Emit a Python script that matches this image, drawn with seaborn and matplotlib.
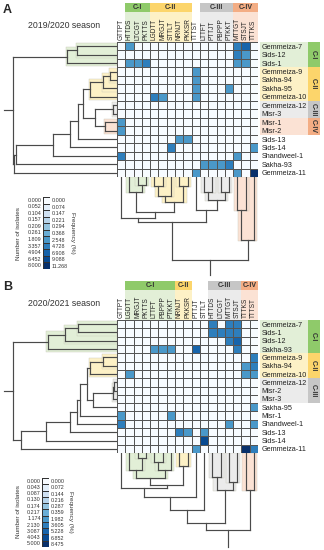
import numpy as np
import pandas as pd
import matplotlib
matplotlib.use("Agg")
import matplotlib.pyplot as plt
from matplotlib.colors import ListedColormap, BoundaryNorm
from matplotlib.patches import Rectangle
import seaborn as sns

sns.set_theme(style="white")
plt.rcParams['font.family'] = ['Liberation Sans', 'DejaVu Sans']

# ---------------- data: 2019/2020 season ----------------
rows_A = ["Gemmeiza-7", "Sids-12", "Sids-1", "Gemmeiza-9", "Sakha-94", "Sakha-95",
          "Gemmeiza-10", "Gemmeiza-12", "Misr-3", "Misr-1", "Misr-2", "Sids-13",
          "Sids-14", "Shandweel-1", "Sakha-93", "Gemmeiza-11"]
cols_A = ["GTTPT", "HTTDS", "LTCGT", "PKTTS", "LGDTT", "MRGJT", "STTLT", "NRNJT",
          "PKKSR", "TTTST", "LTTFT", "PTTJT", "PBPPP", "PTKKT", "MTTGT", "STSJT", "TTTKS"]
counts_A = {
    "Gemmeiza-7": {"HTTDS": 2, "MTTGT": 3, "STSJT": 5},
    "Sids-12": {"MTTGT": 3, "STSJT": 2},
    "Sids-1": {"HTTDS": 2, "LTCGT": 2, "PKTTS": 3, "MTTGT": 2, "STSJT": 2},
    "Gemmeiza-9": {"TTTST": 2},
    "Sakha-94": {"TTTST": 2},
    "Sakha-95": {"TTTST": 2, "PTKKT": 2},
    "Gemmeiza-10": {"LGDTT": 3, "MRGJT": 2, "TTTST": 2},
    "Misr-1": {"GTTPT": 2},
    "Misr-2": {"GTTPT": 2},
    "Sids-13": {"NRNJT": 2, "PKKSR": 2},
    "Sids-14": {"STTLT": 3, "TTTKS": 2},
    "Shandweel-1": {"GTTPT": 3, "MTTGT": 2},
    "Sakha-93": {"LTTFT": 2, "PTTJT": 2, "PBPPP": 2, "PTKKT": 3},
    "Gemmeiza-11": {"TTTST": 2, "MTTGT": 2, "TTTKS": 8},
}
levels_A = [0.000, 0.052, 0.104, 0.157, 0.209, 0.261, 1.809, 3.357, 4.904, 6.452, 8.000]
freq_A = ["0.000", "0.074", "0.147", "0.221", "0.294", "0.368", "2.548", "4.728",
          "6.908", "9.088", "11.268"]
# merges: (node, child, child, height)
row_tree_A = [
    ("a1", "Gemmeiza-7", "Sids-12", 0.385), ("cI", "a1", "Sids-1", 0.48),
    ("a2", "Gemmeiza-9", "Sakha-94", 0.07), ("a3", "a2", "Sakha-95", 0.135),
    ("cII", "a3", "Gemmeiza-10", 0.26), ("cIII", "Gemmeiza-12", "Misr-3", 0.04),
    ("cIV", "Misr-1", "Misr-2", 0.115), ("a4", "cIII", "cIV", 0.21),
    ("a5", "cII", "a4", 0.33), ("a6", "a5", "Sids-13", 0.375),
    ("a7", "a6", "Sids-14", 0.45), ("a8", "a7", "Shandweel-1", 0.615),
    ("a9", "a8", "Sakha-93", 0.975), ("a10", "a9", "Gemmeiza-11", 0.99),
    ("root", "cI", "a10", 1.0),
]
col_tree_A = [
    ("b1", "LTCGT", "PKTTS", 0.10), ("cI", "HTTDS", "b1", 0.18),
    ("b2", "LGDTT", "MRGJT", 0.11), ("b3", "b2", "STTLT", 0.23),
    ("b4", "NRNJT", "PKKSR", 0.11), ("cII", "b3", "b4", 0.30),
    ("b5", "cI", "cII", 0.42), ("b6", "GTTPT", "b5", 0.49),
    ("b7", "LTTFT", "PTTJT", 0.18), ("b8", "PBPPP", "PTKKT", 0.18),
    ("cIII", "b7", "b8", 0.28), ("b9", "TTTST", "cIII", 0.40),
    ("b10", "b6", "b9", 0.54), ("b11", "MTTGT", "STSJT", 0.40),
    ("cIV", "b11", "TTTKS", 0.76), ("root", "b10", "cIV", 1.0),
]
shade_A = {"cI": "C-I", "cII": "C-II", "cIII": "C-III", "cIV": "C-IV"}
row_groups_A = [("C-I", 0, 2), ("C-II", 3, 6), ("C-III", 7, 8), ("C-IV", 9, 10)]
col_groups_A = [("C-I", 1, 3), ("C-II", 4, 8), ("C-III", 10, 13), ("C-IV", 14, 16)]

# ---------------- data: 2020/2021 season ----------------
rows_B = ["Gemmeiza-7", "Sids-1", "Sids-12", "Sakha-93", "Gemmeiza-9", "Sakha-94",
          "Gemmeiza-10", "Gemmeiza-12", "Misr-2", "Misr-3", "Sakha-95", "Misr-1",
          "Shandweel-1", "Sids-13", "Sids-14", "Gemmeiza-11"]
cols_B = ["GTTPT", "LGDTT", "MRGJT", "PKTTS", "LTTFT", "PBPPP", "PTKKT", "NRNJT",
          "PKKSR", "PTTJT", "STTLT", "HTTDS", "LTCGT", "MTTGT", "STSJT", "TTTKS", "TTTST"]
counts_B = {
    "Gemmeiza-7": {"HTTDS": 2, "MTTGT": 2, "STSJT": 2},
    "Sids-1": {"HTTDS": 2, "LTCGT": 2, "MTTGT": 2, "STSJT": 2},
    "Sids-12": {"MTTGT": 2, "STSJT": 3},
    "Sakha-93": {"LTTFT": 1, "PBPPP": 1, "PTKKT": 1, "PTTJT": 3, "STSJT": 2},
    "Gemmeiza-9": {"TTTST": 2},
    "Sakha-94": {"TTTKS": 1, "TTTST": 2},
    "Gemmeiza-10": {"LGDTT": 1, "TTTKS": 1, "TTTST": 1},
    "Sakha-95": {"TTTST": 1},
    "Misr-1": {"GTTPT": 1, "PTKKT": 1},
    "Shandweel-1": {"GTTPT": 2, "MTTGT": 1, "TTTST": 1},
    "Sids-13": {"NRNJT": 2, "PKKSR": 1, "STTLT": 1},
    "Sids-14": {"STTLT": 4},
    "Gemmeiza-11": {"PTTJT": 1, "TTTKS": 5, "TTTST": 2},
}
levels_B = [0.000, 0.043, 0.087, 0.130, 0.174, 0.217, 1.174, 2.130, 3.087, 4.043, 5.000]
freq_B = ["0.000", "0.072", "0.144", "0.216", "0.287", "0.359", "1.982", "3.605",
          "5.228", "6.852", "8.475"]
row_tree_B = [
    ("a1", "Gemmeiza-7", "Sids-1", 0.375), ("a2", "a1", "Sids-12", 0.50),
    ("cI", "a2", "Sakha-93", 0.67), ("a3", "Gemmeiza-9", "Sakha-94", 0.135),
    ("cII", "a3", "Gemmeiza-10", 0.26), ("a4", "Gemmeiza-12", "Misr-2", 0.025),
    ("cIII", "a4", "Misr-3", 0.04), ("a5", "cIII", "Sakha-95", 0.23),
    ("a6", "cII", "a5", 0.29), ("a7", "a6", "Misr-1", 0.355),
    ("a8", "a7", "Shandweel-1", 0.385), ("a9", "a8", "Sids-13", 0.45),
    ("a10", "a9", "Sids-14", 0.69), ("a11", "a10", "Gemmeiza-11", 0.93),
    ("root", "cI", "a11", 1.0),
]
col_tree_B = [
    ("b1", "MRGJT", "PKTTS", 0.06), ("b2", "LGDTT", "b1", 0.22),
    ("b3", "LTTFT", "PBPPP", 0.12), ("b4", "b3", "PTKKT", 0.22),
    ("cI", "b2", "b4", 0.325), ("cII", "NRNJT", "PKKSR", 0.17),
    ("b5", "cI", "cII", 0.415), ("b6", "GTTPT", "b5", 0.455),
    ("b7", "b6", "PTTJT", 0.57), ("b8", "b7", "STTLT", 0.74),
    ("b9", "HTTDS", "LTCGT", 0.31), ("b10", "MTTGT", "STSJT", 0.38),
    ("cIII", "b9", "b10", 0.48), ("b11", "b8", "cIII", 0.91),
    ("cIV", "TTTKS", "TTTST", 0.48), ("root", "b11", "cIV", 1.0),
]
shade_rows_B = {"cI": "C-I", "cII": "C-II", "cIII": "C-III"}
shade_cols_B = {"cI": "C-I", "cII": "C-II", "cIII": "C-III", "cIV": "C-IV"}
row_groups_B = [("C-I", 0, 3), ("C-II", 4, 6), ("C-III", 7, 9)]
col_groups_B = [("C-I", 1, 6), ("C-II", 7, 8), ("C-III", 11, 14), ("C-IV", 15, 16)]

light = {"C-I": "#e2efd7", "C-II": "#fdf1c6", "C-III": "#ebebeb", "C-IV": "#fbe2d4"}
dark = {"C-I": "#8fca6a", "C-II": "#fcd56b", "C-III": "#c6c6c6", "C-IV": "#f3ad84"}
line_col = "#4a4a4a"
cmap = ListedColormap(plt.get_cmap("Blues")(np.linspace(0, 1, 11)))

W, H = 324, 550
fig = plt.figure(figsize=(W / 100, H / 100), dpi=100)


def px_axes(left, top, width, height):
    return fig.add_axes([left / W, 1 - (top + height) / H, width / W, height / H])


def make_norm(levels):
    mids = [(a + b) / 2 for a, b in zip(levels[:-1], levels[1:])]
    return BoundaryNorm([-1] + mids + [levels[-1] + 1], cmap.N)


def layout(tree, leaves):
    pos = {n: i + 0.5 for i, n in enumerate(leaves)}
    hgt = {n: 0.0 for n in leaves}
    kids = {}
    for node, a, b, h in tree:
        pos[node] = (pos[a] + pos[b]) / 2
        hgt[node] = h
        kids[node] = (a, b)
    return pos, hgt, kids


def inner_nodes(node, kids):
    if node not in kids:
        return []
    out = [node]
    for c in kids[node]:
        out += inner_nodes(c, kids)
    return out


def draw_dendro(ax, tree, leaves, shade, stub, orient):
    pos, hgt, kids = layout(tree, leaves)

    def seg(p, h):
        if orient == "left":
            ax.plot(h, p, color=line_col, lw=0.85, solid_capstyle="projecting", zorder=3)
        else:
            ax.plot(p, h, color=line_col, lw=0.85, solid_capstyle="projecting", zorder=3)

    # highlighted clusters
    for top, grp in shade.items():
        for n in inner_nodes(top, kids):
            a, b = kids[n]
            p0 = min(pos[a], pos[b]) - 0.38
            p1 = max(pos[a], pos[b]) + 0.38
            h = hgt[n] + 0.012
            if orient == "left":
                r = Rectangle((0, p0), h, p1 - p0)
            else:
                r = Rectangle((p0, 0), p1 - p0, h)
            r.set_facecolor(light[grp])
            r.set_edgecolor("#c9c9b8")
            r.set_linewidth(0.3)
            r.set_zorder(1)
            ax.add_patch(r)

    for node, a, b, h in tree:
        for c in (a, b):
            seg([pos[c], pos[c]], [hgt[c], h])
        seg([pos[a], pos[b]], [h, h])
    seg([pos["root"], pos["root"]], [hgt["root"], stub])
    ax.axis("off")


def draw_heatmap(ax, counts, rows, cols, levels, row_groups, col_groups):
    df = pd.DataFrame(0.0, index=rows, columns=cols)
    for r, d in counts.items():
        for c, v in d.items():
            df.loc[r, c] = v
    sns.heatmap(df, ax=ax, cmap=cmap, norm=make_norm(levels), cbar=False,
                linewidths=0.5, linecolor="#555555", xticklabels=True, yticklabels=True)
    ax.xaxis.tick_top()
    ax.yaxis.tick_right()
    ax.set_xticklabels(cols, rotation=90, fontsize=4.7, color="#222222")
    ax.set_yticklabels(rows, rotation=0, fontsize=5.2, color="#222222")
    ax.tick_params(axis="x", length=0, pad=1.2)
    ax.tick_params(axis="y", length=0, pad=2.5)
    ax.set_xlabel("")
    ax.set_ylabel("")
    for grp, c0, c1 in col_groups:
        ax.add_patch(Rectangle((c0, -3.6), c1 - c0 + 1, 3.6, facecolor=light[grp],
                               edgecolor="none", clip_on=False, zorder=0))
        ax.add_patch(Rectangle((c0, -4.65), c1 - c0 + 1, 1.05, facecolor=dark[grp],
                               edgecolor="none", clip_on=False, zorder=0))
        ax.text((c0 + c1 + 1) / 2, -4.12, grp, ha="center", va="center", fontsize=5,
                fontweight="bold", color="#333333")
    for grp, r0, r1 in row_groups:
        ax.add_patch(Rectangle((17.25, r0), 5.75, r1 - r0 + 1, facecolor=light[grp],
                               edgecolor="none", clip_on=False, zorder=0))
        ax.add_patch(Rectangle((23.0, r0), 1.45, r1 - r0 + 1, facecolor=dark[grp],
                               edgecolor="none", clip_on=False, zorder=0))
        ax.text(23.72, (r0 + r1 + 1) / 2, grp, ha="center", va="center", fontsize=5,
                fontweight="bold", rotation=-90, color="#333333")


def draw_legend(ax, levels, freq, left_px, mid_px):
    lev = pd.DataFrame({"v": levels})
    sns.heatmap(lev, ax=ax, cmap=cmap, norm=make_norm(levels), cbar=False,
                linewidths=0.4, linecolor="#333333", xticklabels=False,
                yticklabels=[f"{v:.3f}" for v in levels])
    ax.set_yticklabels(ax.get_yticklabels(), rotation=0, fontsize=3.9, color="#333333")
    ax.tick_params(axis="y", length=0, pad=1)
    ax.set_ylabel("")
    ax2 = ax.twinx()
    ax2.set_ylim(ax.get_ylim())
    ax2.set_yticks(np.arange(len(freq)) + 0.5)
    ax2.set_yticklabels(freq, fontsize=3.9, color="#333333")
    ax2.tick_params(length=0, pad=1)
    ax2.grid(False)
    for s in ax2.spines.values():
        s.set_visible(False)
    fig.text((left_px - 24) / W, 1 - mid_px / H, "Number of isolates", rotation=90,
             ha="center", va="center", fontsize=4.6, color="#333333")
    fig.text((left_px + 29) / W, 1 - mid_px / H, "Frequency (%)", rotation=-90,
             ha="center", va="center", fontsize=4.6, color="#333333")


# ---------------- panel A ----------------
fig.text(3 / W, 1 - 10 / H, "A", fontsize=9, fontweight="bold", va="center")
fig.text(28 / W, 1 - 25 / H, "2019/2020 season", fontsize=6.3, va="center", color="#333333")
ax = px_axes(117, 42, 141, 135)
draw_heatmap(ax, counts_A, rows_A, cols_A, levels_A, row_groups_A, col_groups_A)
ax = px_axes(2, 42, 115, 135)
ax.set_xlim(1.11, 0)
ax.set_ylim(16, 0)
draw_dendro(ax, row_tree_A, rows_A, shade_A, 1.09, "left")
ax = px_axes(117, 177, 141, 100)
ax.set_xlim(0, 17)
ax.set_ylim(100 / 83, 0)
draw_dendro(ax, col_tree_A, cols_A, shade_A, 1.18, "top")
ax = px_axes(43, 197, 7, 72)
draw_legend(ax, levels_A, freq_A, 43, 233)

# ---------------- panel B ----------------
fig.text(3 / W, 1 - 287 / H, "B", fontsize=9, fontweight="bold", va="center")
fig.text(28 / W, 1 - 303 / H, "2020/2021 season", fontsize=6.3, va="center", color="#333333")
ax = px_axes(117, 320, 141, 133)
draw_heatmap(ax, counts_B, rows_B, cols_B, levels_B, row_groups_B, col_groups_B)
ax = px_axes(2, 320, 115, 133)
ax.set_xlim(1.11, 0)
ax.set_ylim(16, 0)
draw_dendro(ax, row_tree_B, rows_B, shade_rows_B, 1.09, "left")
ax = px_axes(117, 453, 141, 96)
ax.set_xlim(0, 17)
ax.set_ylim(96 / 77, 0)
draw_dendro(ax, col_tree_B, cols_B, shade_cols_B, 1.22, "top")
ax = px_axes(42, 478, 7, 69)
draw_legend(ax, levels_B, freq_B, 42, 512)

fig.savefig("out.png", dpi=100)
